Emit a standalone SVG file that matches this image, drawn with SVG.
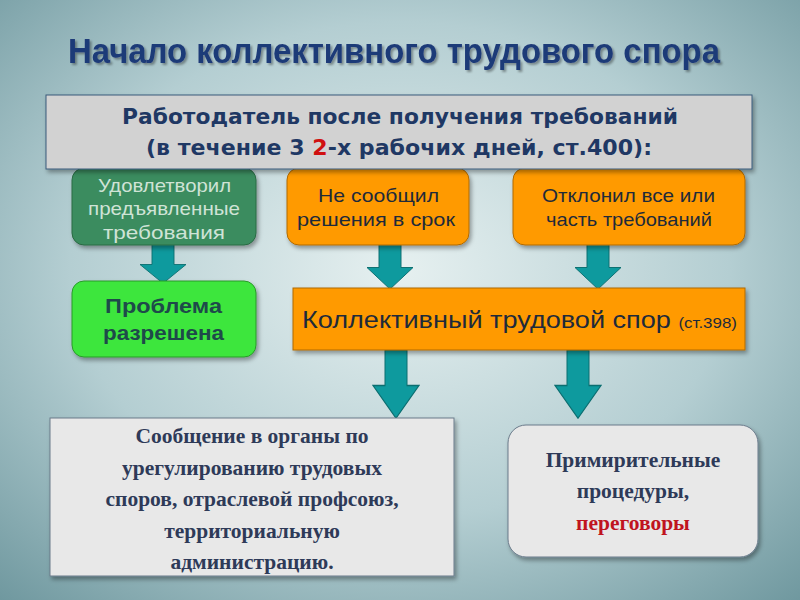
<svg xmlns="http://www.w3.org/2000/svg" width="800" height="600" viewBox="0 0 800 600">
<defs>
<radialGradient id="bg" cx="0.5" cy="0.45" r="0.75">
<stop offset="0" stop-color="#E6F0F0"/><stop offset="0.55" stop-color="#B4CED2"/><stop offset="1" stop-color="#6E979E"/>
</radialGradient>
<filter id="sh" x="-5%" y="-5%" width="115%" height="120%"><feDropShadow dx="2" dy="3" stdDeviation="2" flood-color="#000" flood-opacity="0.35"/></filter>
<filter id="tsh"><feDropShadow dx="2" dy="2" stdDeviation="1" flood-color="#000" flood-opacity="0.35"/></filter>
<g id="arr"><path d="M-11,0 H11 V25 H23 L0,48 L-23,25 H-11 Z" fill="#0E9A9E" stroke="#0B6E70" stroke-width="1"/></g>
</defs>
<style>
.s{font-family:"Liberation Sans",Arial,sans-serif}
.b{font-family:"DejaVu Sans","Liberation Sans",sans-serif;font-weight:bold}
.sr{font-family:"Liberation Serif","Times New Roman",serif;font-weight:bold;font-size:21.5px;fill:#2E3A58}
.or{fill:#FF9A00;stroke:#B06A00;stroke-width:1}
</style>
<rect width="800" height="600" fill="url(#bg)"/>
<text x="68" y="63" textLength="652" lengthAdjust="spacingAndGlyphs" class="s" font-size="35" font-weight="bold" fill="#1F3A78" filter="url(#tsh)">Начало коллективного трудового спора</text>

<g id="connectors">
<use href="#arr" transform="translate(163,244) scale(1,0.82)"/>
<use href="#arr" transform="translate(390,244) scale(1,0.94)"/>
<use href="#arr" transform="translate(598,244) scale(1,0.94)"/>
<use href="#arr" transform="translate(396,350) scale(1,1.42)"/>
<use href="#arr" transform="translate(578,350) scale(1,1.42)"/>
</g>

<g id="n2"><rect x="72" y="168" width="184" height="77" rx="12" fill="#3A8C5E" stroke="#2A6A44" filter="url(#sh)"/>
<text class="s" font-size="19" fill="#CFE3D6"><tspan x="98" y="192" textLength="133" lengthAdjust="spacingAndGlyphs">Удовлетворил</tspan><tspan x="88" y="215" textLength="152" lengthAdjust="spacingAndGlyphs">предъявленные</tspan><tspan x="103" y="239" textLength="122" lengthAdjust="spacingAndGlyphs">требования</tspan></text></g>
<g id="n3"><rect x="287" y="168" width="182" height="77" rx="12" class="or" filter="url(#sh)"/>
<text class="s" font-size="19" fill="#1E2A3A"><tspan x="318" y="202" textLength="121" lengthAdjust="spacingAndGlyphs">Не сообщил</tspan><tspan x="297" y="226" textLength="158" lengthAdjust="spacingAndGlyphs">решения в срок</tspan></text></g>
<g id="n4"><rect x="513" y="168" width="232" height="77" rx="12" class="or" filter="url(#sh)"/>
<text class="s" font-size="19" fill="#1E2A3A"><tspan x="542" y="202" textLength="173" lengthAdjust="spacingAndGlyphs">Отклонил  все или</tspan><tspan x="546" y="226" textLength="166" lengthAdjust="spacingAndGlyphs">часть требований</tspan></text></g>

<g id="n1"><rect x="46" y="95" width="706" height="74" fill="#D2D2D2" stroke="#3A5A7A" filter="url(#sh)"/>
<text class="b" font-size="22" fill="#1F3864"><tspan x="122" y="124" textLength="556" lengthAdjust="spacingAndGlyphs">Работодатель после получения требований</tspan><tspan x="146" y="155" textLength="506" lengthAdjust="spacingAndGlyphs">(в течение 3 <tspan fill="#D01010">2</tspan>-х рабочих дней, ст.400):</tspan></text></g>

<g id="n5"><rect x="72" y="281" width="184" height="76" rx="12" fill="#3DE63D" stroke="#2A9A2A" filter="url(#sh)"/>
<text class="s" font-size="20" font-weight="bold" fill="#1E4A4A"><tspan x="105" y="313" textLength="117" lengthAdjust="spacingAndGlyphs">Проблема</tspan><tspan x="103" y="340" textLength="121" lengthAdjust="spacingAndGlyphs">разрешена</tspan></text></g>
<g id="n6"><rect x="293" y="288" width="452" height="62" class="or" filter="url(#sh)"/>
<text x="302" y="328" textLength="435" lengthAdjust="spacingAndGlyphs" class="s" font-size="24" fill="#1E2A3A">Коллективный трудовой спор <tspan font-size="15">(ст.398)</tspan></text></g>

<g id="n7"><rect x="50" y="418" width="404" height="158" fill="#E8E8E8" stroke="#6A7A8A" filter="url(#sh)"/>
<text class="sr" text-anchor="middle"><tspan x="252" y="443">Сообщение в органы по</tspan><tspan x="252" y="475">урегулированию трудовых</tspan><tspan x="252" y="506">споров, отраслевой профсоюз,</tspan><tspan x="252" y="538">территориальную</tspan><tspan x="252" y="569">администрацию.</tspan></text></g>
<g id="n8"><rect x="508" y="425" width="250" height="132" rx="18" fill="#E8E8E8" stroke="#6A7A8A" filter="url(#sh)"/>
<text class="sr" text-anchor="middle"><tspan x="633" y="467">Примирительные</tspan><tspan x="633" y="498">процедуры,</tspan><tspan x="633" y="530" fill="#C0141E">переговоры</tspan></text></g>
</svg>
